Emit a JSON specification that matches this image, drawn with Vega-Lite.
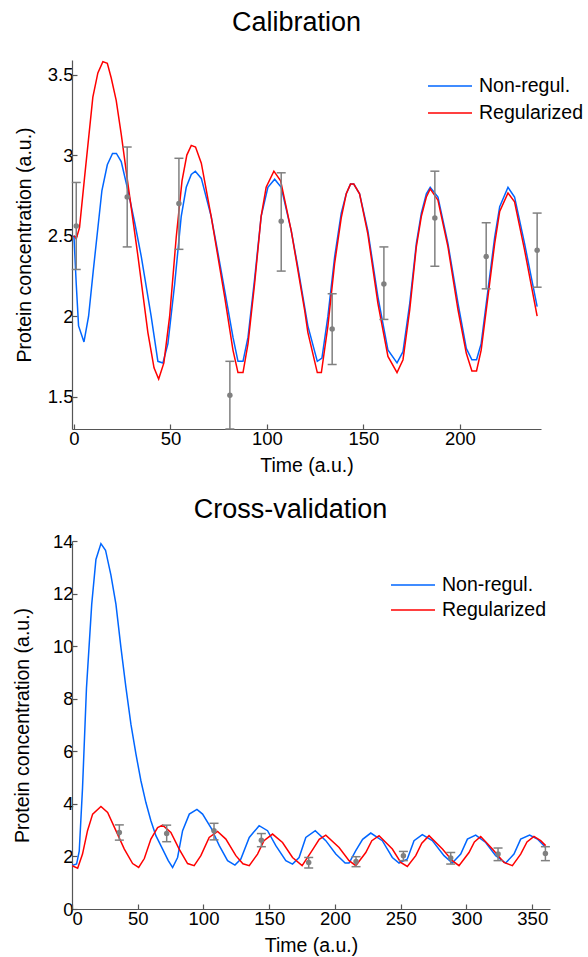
{
  "$schema": "https://vega.github.io/schema/vega-lite/v6.json",
  "padding": {"left": 12, "top": 9, "right": 5, "bottom": 5},
  "datasets": {
    "cal_curves": [
      {"t": 0, "v": 2.50, "model": "Non-regul."},
      {"t": 1.2, "v": 2.20, "model": "Non-regul."},
      {"t": 2.4, "v": 1.94, "model": "Non-regul."},
      {"t": 5.2, "v": 1.84, "model": "Non-regul."},
      {"t": 7.6, "v": 2.00, "model": "Non-regul."},
      {"t": 10, "v": 2.28, "model": "Non-regul."},
      {"t": 14.5, "v": 2.78, "model": "Non-regul."},
      {"t": 17.3, "v": 2.94, "model": "Non-regul."},
      {"t": 20, "v": 3.01, "model": "Non-regul."},
      {"t": 22, "v": 3.01, "model": "Non-regul."},
      {"t": 24.5, "v": 2.96, "model": "Non-regul."},
      {"t": 28, "v": 2.78, "model": "Non-regul."},
      {"t": 31.5, "v": 2.58, "model": "Non-regul."},
      {"t": 34.9, "v": 2.37, "model": "Non-regul."},
      {"t": 40, "v": 2.00, "model": "Non-regul."},
      {"t": 43.5, "v": 1.72, "model": "Non-regul."},
      {"t": 46.1, "v": 1.71, "model": "Non-regul."},
      {"t": 48.7, "v": 1.83, "model": "Non-regul."},
      {"t": 52.2, "v": 2.20, "model": "Non-regul."},
      {"t": 55.6, "v": 2.62, "model": "Non-regul."},
      {"t": 58.2, "v": 2.80, "model": "Non-regul."},
      {"t": 60.8, "v": 2.88, "model": "Non-regul."},
      {"t": 62.9, "v": 2.90, "model": "Non-regul."},
      {"t": 66, "v": 2.855, "model": "Non-regul."},
      {"t": 71.1, "v": 2.62, "model": "Non-regul."},
      {"t": 74.5, "v": 2.40, "model": "Non-regul."},
      {"t": 78.1, "v": 2.16, "model": "Non-regul."},
      {"t": 82.4, "v": 1.87, "model": "Non-regul."},
      {"t": 85, "v": 1.72, "model": "Non-regul."},
      {"t": 87.6, "v": 1.72, "model": "Non-regul."},
      {"t": 90.2, "v": 1.87, "model": "Non-regul."},
      {"t": 93.6, "v": 2.23, "model": "Non-regul."},
      {"t": 97, "v": 2.62, "model": "Non-regul."},
      {"t": 100.5, "v": 2.80, "model": "Non-regul."},
      {"t": 104, "v": 2.85, "model": "Non-regul."},
      {"t": 107.4, "v": 2.80, "model": "Non-regul."},
      {"t": 112.6, "v": 2.53, "model": "Non-regul."},
      {"t": 116.1, "v": 2.30, "model": "Non-regul."},
      {"t": 121.2, "v": 1.94, "model": "Non-regul."},
      {"t": 126.1, "v": 1.72, "model": "Non-regul."},
      {"t": 128.5, "v": 1.74, "model": "Non-regul."},
      {"t": 131.6, "v": 2.00, "model": "Non-regul."},
      {"t": 135.1, "v": 2.37, "model": "Non-regul."},
      {"t": 138.5, "v": 2.64, "model": "Non-regul."},
      {"t": 141.1, "v": 2.76, "model": "Non-regul."},
      {"t": 143.3, "v": 2.82, "model": "Non-regul."},
      {"t": 145, "v": 2.82, "model": "Non-regul."},
      {"t": 148, "v": 2.76, "model": "Non-regul."},
      {"t": 152.3, "v": 2.53, "model": "Non-regul."},
      {"t": 157.5, "v": 2.12, "model": "Non-regul."},
      {"t": 162.7, "v": 1.79, "model": "Non-regul."},
      {"t": 167.4, "v": 1.71, "model": "Non-regul."},
      {"t": 170.5, "v": 1.78, "model": "Non-regul."},
      {"t": 174, "v": 2.08, "model": "Non-regul."},
      {"t": 177.4, "v": 2.45, "model": "Non-regul."},
      {"t": 180, "v": 2.64, "model": "Non-regul."},
      {"t": 182.6, "v": 2.76, "model": "Non-regul."},
      {"t": 184.6, "v": 2.80, "model": "Non-regul."},
      {"t": 188.6, "v": 2.74, "model": "Non-regul."},
      {"t": 193.8, "v": 2.45, "model": "Non-regul."},
      {"t": 199, "v": 2.08, "model": "Non-regul."},
      {"t": 203.3, "v": 1.80, "model": "Non-regul."},
      {"t": 206.2, "v": 1.73, "model": "Non-regul."},
      {"t": 208.6, "v": 1.73, "model": "Non-regul."},
      {"t": 211, "v": 1.83, "model": "Non-regul."},
      {"t": 214.5, "v": 2.16, "model": "Non-regul."},
      {"t": 218, "v": 2.49, "model": "Non-regul."},
      {"t": 220.6, "v": 2.68, "model": "Non-regul."},
      {"t": 224.9, "v": 2.80, "model": "Non-regul."},
      {"t": 228.3, "v": 2.74, "model": "Non-regul."},
      {"t": 233.5, "v": 2.45, "model": "Non-regul."},
      {"t": 240, "v": 2.06, "model": "Non-regul."},
      {"t": 0, "v": 2.50, "model": "Regularized"},
      {"t": 1.2, "v": 2.48, "model": "Regularized"},
      {"t": 2.9, "v": 2.55, "model": "Regularized"},
      {"t": 5.5, "v": 2.86, "model": "Regularized"},
      {"t": 9.8, "v": 3.36, "model": "Regularized"},
      {"t": 12.4, "v": 3.51, "model": "Regularized"},
      {"t": 15, "v": 3.58, "model": "Regularized"},
      {"t": 17.3, "v": 3.57, "model": "Regularized"},
      {"t": 19.3, "v": 3.48, "model": "Regularized"},
      {"t": 21.9, "v": 3.34, "model": "Regularized"},
      {"t": 24.5, "v": 3.13, "model": "Regularized"},
      {"t": 28, "v": 2.82, "model": "Regularized"},
      {"t": 33.2, "v": 2.37, "model": "Regularized"},
      {"t": 38.3, "v": 1.90, "model": "Regularized"},
      {"t": 41.5, "v": 1.68, "model": "Regularized"},
      {"t": 43.9, "v": 1.61, "model": "Regularized"},
      {"t": 46.6, "v": 1.71, "model": "Regularized"},
      {"t": 49.6, "v": 2.00, "model": "Regularized"},
      {"t": 53, "v": 2.49, "model": "Regularized"},
      {"t": 56, "v": 2.84, "model": "Regularized"},
      {"t": 58.5, "v": 3.00, "model": "Regularized"},
      {"t": 60.8, "v": 3.06, "model": "Regularized"},
      {"t": 63, "v": 3.05, "model": "Regularized"},
      {"t": 66, "v": 2.95, "model": "Regularized"},
      {"t": 71.1, "v": 2.62, "model": "Regularized"},
      {"t": 78.1, "v": 2.12, "model": "Regularized"},
      {"t": 82.4, "v": 1.79, "model": "Regularized"},
      {"t": 85, "v": 1.65, "model": "Regularized"},
      {"t": 87.6, "v": 1.65, "model": "Regularized"},
      {"t": 90.2, "v": 1.83, "model": "Regularized"},
      {"t": 93.6, "v": 2.20, "model": "Regularized"},
      {"t": 97, "v": 2.62, "model": "Regularized"},
      {"t": 99.6, "v": 2.80, "model": "Regularized"},
      {"t": 103.6, "v": 2.90, "model": "Regularized"},
      {"t": 107.1, "v": 2.84, "model": "Regularized"},
      {"t": 112.6, "v": 2.53, "model": "Regularized"},
      {"t": 119.5, "v": 2.04, "model": "Regularized"},
      {"t": 121.2, "v": 1.90, "model": "Regularized"},
      {"t": 126.1, "v": 1.65, "model": "Regularized"},
      {"t": 128.2, "v": 1.65, "model": "Regularized"},
      {"t": 131.6, "v": 1.94, "model": "Regularized"},
      {"t": 135.1, "v": 2.33, "model": "Regularized"},
      {"t": 138.5, "v": 2.61, "model": "Regularized"},
      {"t": 141.1, "v": 2.76, "model": "Regularized"},
      {"t": 143.3, "v": 2.82, "model": "Regularized"},
      {"t": 145, "v": 2.82, "model": "Regularized"},
      {"t": 148, "v": 2.76, "model": "Regularized"},
      {"t": 152.3, "v": 2.51, "model": "Regularized"},
      {"t": 157.5, "v": 2.08, "model": "Regularized"},
      {"t": 162.7, "v": 1.75, "model": "Regularized"},
      {"t": 167.4, "v": 1.65, "model": "Regularized"},
      {"t": 170.5, "v": 1.73, "model": "Regularized"},
      {"t": 174, "v": 2.04, "model": "Regularized"},
      {"t": 177.4, "v": 2.43, "model": "Regularized"},
      {"t": 180, "v": 2.62, "model": "Regularized"},
      {"t": 182.6, "v": 2.74, "model": "Regularized"},
      {"t": 184.6, "v": 2.79, "model": "Regularized"},
      {"t": 188.6, "v": 2.72, "model": "Regularized"},
      {"t": 193.8, "v": 2.43, "model": "Regularized"},
      {"t": 199, "v": 2.04, "model": "Regularized"},
      {"t": 203.3, "v": 1.77, "model": "Regularized"},
      {"t": 206.2, "v": 1.66, "model": "Regularized"},
      {"t": 208.6, "v": 1.66, "model": "Regularized"},
      {"t": 211, "v": 1.79, "model": "Regularized"},
      {"t": 214.5, "v": 2.12, "model": "Regularized"},
      {"t": 218, "v": 2.45, "model": "Regularized"},
      {"t": 220.6, "v": 2.65, "model": "Regularized"},
      {"t": 224.9, "v": 2.765, "model": "Regularized"},
      {"t": 228.3, "v": 2.71, "model": "Regularized"},
      {"t": 233.5, "v": 2.41, "model": "Regularized"},
      {"t": 240, "v": 2.00, "model": "Regularized"}
    ],
    "cal_data": [
      {"t": 1.2, "v": 2.56, "lo": 2.29, "hi": 2.83},
      {"t": 27.6, "v": 2.74, "lo": 2.43, "hi": 3.05},
      {"t": 54.4, "v": 2.70, "lo": 2.415, "hi": 2.98},
      {"t": 80.8, "v": 1.51, "lo": 1.30, "hi": 1.72},
      {"t": 107.4, "v": 2.59, "lo": 2.28, "hi": 2.89},
      {"t": 133.8, "v": 1.92, "lo": 1.70, "hi": 2.14},
      {"t": 160.6, "v": 2.20, "lo": 1.98, "hi": 2.43},
      {"t": 187, "v": 2.61, "lo": 2.31, "hi": 2.90},
      {"t": 213.6, "v": 2.37, "lo": 2.17, "hi": 2.58},
      {"t": 240, "v": 2.41, "lo": 2.18, "hi": 2.64}
    ],
    "cv_curves": [
      {"t": 0, "v": 1.65, "model": "Non-regul."},
      {"t": 3.5, "v": 1.71, "model": "Non-regul."},
      {"t": 5.5, "v": 2.2, "model": "Non-regul."},
      {"t": 8, "v": 4.6, "model": "Non-regul."},
      {"t": 11, "v": 8.4, "model": "Non-regul."},
      {"t": 15, "v": 11.6, "model": "Non-regul."},
      {"t": 18.2, "v": 13.3, "model": "Non-regul."},
      {"t": 22, "v": 13.9, "model": "Non-regul."},
      {"t": 25.5, "v": 13.65, "model": "Non-regul."},
      {"t": 29.6, "v": 12.7, "model": "Non-regul."},
      {"t": 33.4, "v": 11.6, "model": "Non-regul."},
      {"t": 37.2, "v": 9.95, "model": "Non-regul."},
      {"t": 41, "v": 8.43, "model": "Non-regul."},
      {"t": 44.8, "v": 7.03, "model": "Non-regul."},
      {"t": 48.6, "v": 5.9, "model": "Non-regul."},
      {"t": 52.4, "v": 4.88, "model": "Non-regul."},
      {"t": 56.2, "v": 4.05, "model": "Non-regul."},
      {"t": 60, "v": 3.36, "model": "Non-regul."},
      {"t": 63.8, "v": 2.79, "model": "Non-regul."},
      {"t": 68.9, "v": 2.28, "model": "Non-regul."},
      {"t": 73.2, "v": 1.84, "model": "Non-regul."},
      {"t": 76.5, "v": 1.58, "model": "Non-regul."},
      {"t": 80.3, "v": 1.96, "model": "Non-regul."},
      {"t": 84.1, "v": 2.98, "model": "Non-regul."},
      {"t": 89.2, "v": 3.61, "model": "Non-regul."},
      {"t": 95, "v": 3.79, "model": "Non-regul."},
      {"t": 99.3, "v": 3.61, "model": "Non-regul."},
      {"t": 105.6, "v": 3.10, "model": "Non-regul."},
      {"t": 112, "v": 2.41, "model": "Non-regul."},
      {"t": 118.3, "v": 1.84, "model": "Non-regul."},
      {"t": 123.9, "v": 1.67, "model": "Non-regul."},
      {"t": 128.4, "v": 1.90, "model": "Non-regul."},
      {"t": 134.8, "v": 2.72, "model": "Non-regul."},
      {"t": 142.3, "v": 3.17, "model": "Non-regul."},
      {"t": 148.7, "v": 2.98, "model": "Non-regul."},
      {"t": 155, "v": 2.41, "model": "Non-regul."},
      {"t": 162.6, "v": 1.84, "model": "Non-regul."},
      {"t": 167.7, "v": 1.71, "model": "Non-regul."},
      {"t": 172.7, "v": 1.96, "model": "Non-regul."},
      {"t": 177.8, "v": 2.72, "model": "Non-regul."},
      {"t": 185, "v": 2.98, "model": "Non-regul."},
      {"t": 193, "v": 2.60, "model": "Non-regul."},
      {"t": 200.6, "v": 2.09, "model": "Non-regul."},
      {"t": 207.7, "v": 1.75, "model": "Non-regul."},
      {"t": 210.7, "v": 1.75, "model": "Non-regul."},
      {"t": 215.8, "v": 2.22, "model": "Non-regul."},
      {"t": 221, "v": 2.65, "model": "Non-regul."},
      {"t": 227.2, "v": 2.89, "model": "Non-regul."},
      {"t": 236, "v": 2.60, "model": "Non-regul."},
      {"t": 243.6, "v": 1.96, "model": "Non-regul."},
      {"t": 248.7, "v": 1.75, "model": "Non-regul."},
      {"t": 255, "v": 1.90, "model": "Non-regul."},
      {"t": 260.1, "v": 2.60, "model": "Non-regul."},
      {"t": 266.4, "v": 2.83, "model": "Non-regul."},
      {"t": 274, "v": 2.60, "model": "Non-regul."},
      {"t": 282.9, "v": 2.03, "model": "Non-regul."},
      {"t": 289.2, "v": 1.75, "model": "Non-regul."},
      {"t": 295.6, "v": 2.09, "model": "Non-regul."},
      {"t": 300.7, "v": 2.66, "model": "Non-regul."},
      {"t": 307, "v": 2.81, "model": "Non-regul."},
      {"t": 314.6, "v": 2.53, "model": "Non-regul."},
      {"t": 322.2, "v": 2.03, "model": "Non-regul."},
      {"t": 329.8, "v": 1.75, "model": "Non-regul."},
      {"t": 336.1, "v": 2.09, "model": "Non-regul."},
      {"t": 341.2, "v": 2.66, "model": "Non-regul."},
      {"t": 348, "v": 2.81, "model": "Non-regul."},
      {"t": 353.9, "v": 2.66, "model": "Non-regul."},
      {"t": 360.2, "v": 2.34, "model": "Non-regul."},
      {"t": 0, "v": 1.65, "model": "Regularized"},
      {"t": 4.3, "v": 1.55, "model": "Regularized"},
      {"t": 8, "v": 2.09, "model": "Regularized"},
      {"t": 11.8, "v": 2.98, "model": "Regularized"},
      {"t": 15.7, "v": 3.61, "model": "Regularized"},
      {"t": 22, "v": 3.90, "model": "Regularized"},
      {"t": 27.1, "v": 3.67, "model": "Regularized"},
      {"t": 33.4, "v": 2.98, "model": "Regularized"},
      {"t": 39.8, "v": 2.28, "model": "Regularized"},
      {"t": 46.1, "v": 1.73, "model": "Regularized"},
      {"t": 50.7, "v": 1.58, "model": "Regularized"},
      {"t": 55, "v": 1.92, "model": "Regularized"},
      {"t": 60, "v": 2.66, "model": "Regularized"},
      {"t": 65.1, "v": 3.10, "model": "Regularized"},
      {"t": 68.9, "v": 3.19, "model": "Regularized"},
      {"t": 75.2, "v": 2.91, "model": "Regularized"},
      {"t": 81.5, "v": 2.28, "model": "Regularized"},
      {"t": 87.9, "v": 1.73, "model": "Regularized"},
      {"t": 92.9, "v": 1.65, "model": "Regularized"},
      {"t": 98, "v": 2.03, "model": "Regularized"},
      {"t": 104.3, "v": 2.72, "model": "Regularized"},
      {"t": 110.7, "v": 2.95, "model": "Regularized"},
      {"t": 117, "v": 2.66, "model": "Regularized"},
      {"t": 124.6, "v": 2.03, "model": "Regularized"},
      {"t": 130, "v": 1.72, "model": "Regularized"},
      {"t": 134.8, "v": 1.65, "model": "Regularized"},
      {"t": 141.1, "v": 2.09, "model": "Regularized"},
      {"t": 146, "v": 2.60, "model": "Regularized"},
      {"t": 152.5, "v": 2.85, "model": "Regularized"},
      {"t": 160.1, "v": 2.53, "model": "Regularized"},
      {"t": 167.7, "v": 1.96, "model": "Regularized"},
      {"t": 175, "v": 1.65, "model": "Regularized"},
      {"t": 182.9, "v": 2.25, "model": "Regularized"},
      {"t": 188, "v": 2.65, "model": "Regularized"},
      {"t": 193, "v": 2.81, "model": "Regularized"},
      {"t": 203.1, "v": 2.34, "model": "Regularized"},
      {"t": 210.7, "v": 1.84, "model": "Regularized"},
      {"t": 215.8, "v": 1.65, "model": "Regularized"},
      {"t": 223.4, "v": 2.15, "model": "Regularized"},
      {"t": 228, "v": 2.60, "model": "Regularized"},
      {"t": 233.5, "v": 2.79, "model": "Regularized"},
      {"t": 243.6, "v": 2.28, "model": "Regularized"},
      {"t": 250, "v": 1.77, "model": "Regularized"},
      {"t": 255, "v": 1.62, "model": "Regularized"},
      {"t": 261.4, "v": 2.03, "model": "Regularized"},
      {"t": 266, "v": 2.50, "model": "Regularized"},
      {"t": 271.5, "v": 2.79, "model": "Regularized"},
      {"t": 281.7, "v": 2.28, "model": "Regularized"},
      {"t": 289.2, "v": 1.84, "model": "Regularized"},
      {"t": 294.3, "v": 1.65, "model": "Regularized"},
      {"t": 301.9, "v": 2.15, "model": "Regularized"},
      {"t": 306, "v": 2.55, "model": "Regularized"},
      {"t": 310.8, "v": 2.76, "model": "Regularized"},
      {"t": 319.7, "v": 2.28, "model": "Regularized"},
      {"t": 328.5, "v": 1.77, "model": "Regularized"},
      {"t": 334.9, "v": 1.65, "model": "Regularized"},
      {"t": 341.2, "v": 2.09, "model": "Regularized"},
      {"t": 346, "v": 2.55, "model": "Regularized"},
      {"t": 351.3, "v": 2.76, "model": "Regularized"},
      {"t": 356.4, "v": 2.60, "model": "Regularized"},
      {"t": 360.2, "v": 2.41, "model": "Regularized"}
    ],
    "cv_data": [
      {"t": 36, "v": 2.91, "lo": 2.62, "hi": 3.20},
      {"t": 72, "v": 2.87, "lo": 2.56, "hi": 3.19},
      {"t": 108, "v": 2.98, "lo": 2.63, "hi": 3.26},
      {"t": 144, "v": 2.62, "lo": 2.37, "hi": 2.87},
      {"t": 180, "v": 1.77, "lo": 1.56, "hi": 1.96},
      {"t": 216, "v": 1.81, "lo": 1.61, "hi": 1.99},
      {"t": 252, "v": 2.03, "lo": 1.84, "hi": 2.19},
      {"t": 288, "v": 1.94, "lo": 1.71, "hi": 2.15},
      {"t": 324, "v": 2.09, "lo": 1.84, "hi": 2.32},
      {"t": 360, "v": 2.11, "lo": 1.84, "hi": 2.37}
    ]
  },
  "spacing": 21,
  "resolve": {
    "scale": {"color": "independent", "x": "independent", "y": "independent"},
    "legend": {"color": "independent"}
  },
  "vconcat": [
    {
      "width": 469,
      "height": 369,
      "title": {"text": "Calibration", "frame": "group", "dx": -10, "offset": 23},
      "layer": [
        {
          "data": {"name": "cal_curves"},
          "mark": {"type": "line", "strokeWidth": 1.5, "clip": true},
          "encoding": {
            "x": {"field": "t", "type": "quantitative", "title": "Time (a.u.)",
                  "scale": {"domain": [-1, 242], "nice": false, "zero": false},
                  "axis": {"values": [0, 50, 100, 150, 200]}},
            "y": {"field": "v", "type": "quantitative", "title": "Protein concentration (a.u.)",
                  "scale": {"domain": [1.3, 3.59], "nice": false, "zero": false},
                  "axis": {"values": [1.5, 2, 2.5, 3, 3.5], "format": "~g", "titleX": -38}},
            "color": {"field": "model", "type": "nominal",
                      "scale": {"domain": ["Non-regul.", "Regularized"], "range": ["#0066ff", "#ff0000"]},
                      "legend": {"title": null, "orient": "none", "legendX": 367, "legendY": 15, "rowPadding": 6}}
          }
        },
        {
          "data": {"name": "cal_data"},
          "mark": {"type": "rule", "color": "#808080", "strokeWidth": 1.5},
          "encoding": {
            "x": {"field": "t", "type": "quantitative", "title": "Time (a.u.)"},
            "y": {"field": "lo", "type": "quantitative", "title": "Protein concentration (a.u.)"},
            "y2": {"field": "hi"}
          }
        },
        {
          "data": {"name": "cal_data"},
          "mark": {"type": "tick", "orient": "horizontal", "size": 9, "thickness": 1.5, "color": "#808080", "opacity": 1},
          "encoding": {
            "x": {"field": "t", "type": "quantitative", "title": "Time (a.u.)"},
            "y": {"field": "lo", "type": "quantitative", "title": "Protein concentration (a.u.)"}
          }
        },
        {
          "data": {"name": "cal_data"},
          "mark": {"type": "tick", "orient": "horizontal", "size": 9, "thickness": 1.5, "color": "#808080", "opacity": 1},
          "encoding": {
            "x": {"field": "t", "type": "quantitative", "title": "Time (a.u.)"},
            "y": {"field": "hi", "type": "quantitative", "title": "Protein concentration (a.u.)"}
          }
        },
        {
          "data": {"name": "cal_data"},
          "mark": {"type": "point", "filled": true, "size": 30, "color": "#808080", "opacity": 1},
          "encoding": {
            "x": {"field": "t", "type": "quantitative", "title": "Time (a.u.)"},
            "y": {"field": "v", "type": "quantitative", "title": "Protein concentration (a.u.)"}
          }
        }
      ]
    },
    {
      "width": 478,
      "height": 368,
      "title": {"text": "Cross-validation", "frame": "group", "dx": -20.5, "offset": 8},
      "layer": [
        {
          "data": {"name": "cv_curves"},
          "mark": {"type": "line", "strokeWidth": 1.5, "clip": true},
          "encoding": {
            "x": {"field": "t", "type": "quantitative", "title": "Time (a.u.)",
                  "scale": {"domain": [0, 363.5], "nice": false, "zero": false},
                  "axis": {"values": [0, 50, 100, 150, 200, 250, 300, 350]}},
            "y": {"field": "v", "type": "quantitative", "title": "Protein concentration (a.u.)",
                  "scale": {"domain": [0, 14], "nice": false, "zero": false},
                  "axis": {"values": [0, 2, 4, 6, 8, 10, 12, 14], "format": "~g", "titleX": -40}},
            "color": {"field": "model", "type": "nominal",
                      "scale": {"domain": ["Non-regul.", "Regularized"], "range": ["#0066ff", "#ff0000"]},
                      "legend": {"title": null, "orient": "none", "legendX": 330, "legendY": 33, "rowPadding": 4}}
          }
        },
        {
          "data": {"name": "cv_data"},
          "mark": {"type": "rule", "color": "#808080", "strokeWidth": 1.5},
          "encoding": {
            "x": {"field": "t", "type": "quantitative", "title": "Time (a.u.)"},
            "y": {"field": "lo", "type": "quantitative", "title": "Protein concentration (a.u.)"},
            "y2": {"field": "hi"}
          }
        },
        {
          "data": {"name": "cv_data"},
          "mark": {"type": "tick", "orient": "horizontal", "size": 9, "thickness": 1.5, "color": "#808080", "opacity": 1},
          "encoding": {
            "x": {"field": "t", "type": "quantitative", "title": "Time (a.u.)"},
            "y": {"field": "lo", "type": "quantitative", "title": "Protein concentration (a.u.)"}
          }
        },
        {
          "data": {"name": "cv_data"},
          "mark": {"type": "tick", "orient": "horizontal", "size": 9, "thickness": 1.5, "color": "#808080", "opacity": 1},
          "encoding": {
            "x": {"field": "t", "type": "quantitative", "title": "Time (a.u.)"},
            "y": {"field": "hi", "type": "quantitative", "title": "Protein concentration (a.u.)"}
          }
        },
        {
          "data": {"name": "cv_data"},
          "mark": {"type": "point", "filled": true, "size": 30, "color": "#808080", "opacity": 1},
          "encoding": {
            "x": {"field": "t", "type": "quantitative", "title": "Time (a.u.)"},
            "y": {"field": "v", "type": "quantitative", "title": "Protein concentration (a.u.)"}
          }
        }
      ]
    }
  ],
  "config": {
    "font": "Liberation Sans",
    "background": "white",
    "view": {"stroke": null},
    "axis": {
      "grid": false,
      "domainColor": "#555555",
      "tickColor": "#555555",
      "domainWidth": 1.2,
      "tickWidth": 1.2,
      "tickSize": -5,
      "labelColor": "#000000",
      "titleColor": "#000000",
      "labelFont": "Liberation Sans",
      "titleFont": "Liberation Sans",
      "labelFontSize": 18.5,
      "titleFontSize": 19.5,
      "titleFontWeight": "normal",
      "titlePadding": 9
    },
    "axisX": {"labelPadding": 5},
    "axisY": {"labelPadding": 4},
    "title": {"font": "Liberation Sans", "fontSize": 27, "fontWeight": "normal", "color": "#000000", "anchor": "middle"},
    "legend": {
      "symbolType": "M-2.2,0H2.2",
      "symbolSize": 400,
      "symbolStrokeWidth": 1.5,
      "labelFont": "Liberation Sans",
      "labelFontSize": 19.5,
      "labelColor": "#000000",
      "labelOffset": 18,
      "labelLimit": 300
    }
  }
}
